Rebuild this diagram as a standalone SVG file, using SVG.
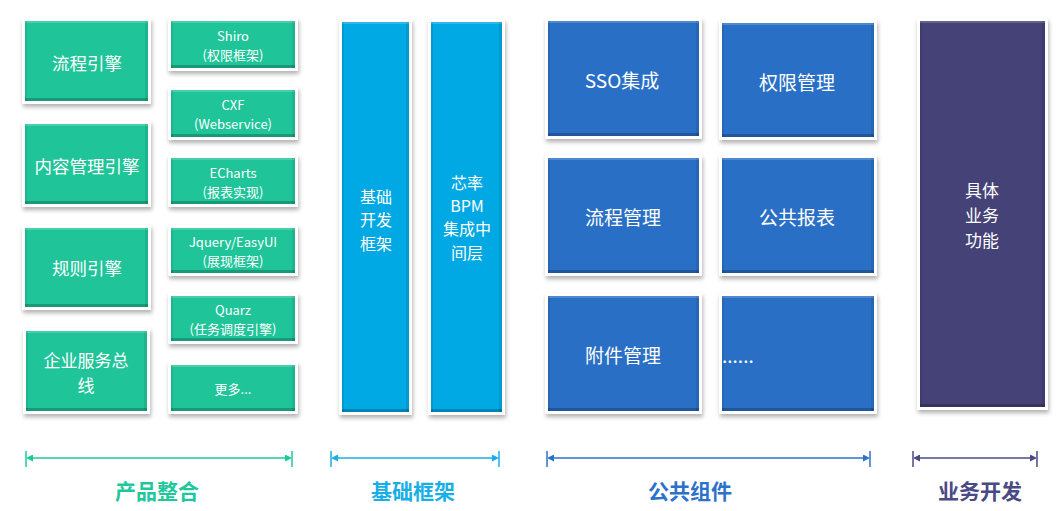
<svg xmlns="http://www.w3.org/2000/svg" width="1061" height="511" viewBox="0 0 1061 511">
<defs>
<filter id="sh" x="-20%" y="-20%" width="140%" height="140%">
<feDropShadow dx="1" dy="3" stdDeviation="2" flood-color="#000" flood-opacity="0.3"/>
</filter>
<marker id="aG" viewBox="0 0 10 10" refX="0" refY="5" markerWidth="7" markerHeight="7" orient="auto-start-reverse" markerUnits="userSpaceOnUse"><path d="M0,0 L10,5 L0,10 z" fill="#1fc89c"/></marker>
<marker id="aC" viewBox="0 0 10 10" refX="0" refY="5" markerWidth="7" markerHeight="7" orient="auto-start-reverse" markerUnits="userSpaceOnUse"><path d="M0,0 L10,5 L0,10 z" fill="#18afe6"/></marker>
<marker id="aB" viewBox="0 0 10 10" refX="0" refY="5" markerWidth="7" markerHeight="7" orient="auto-start-reverse" markerUnits="userSpaceOnUse"><path d="M0,0 L10,5 L0,10 z" fill="#2b72c8"/></marker>
<marker id="aP" viewBox="0 0 10 10" refX="0" refY="5" markerWidth="7" markerHeight="7" orient="auto-start-reverse" markerUnits="userSpaceOnUse"><path d="M0,0 L10,5 L0,10 z" fill="#4a4a85"/></marker>
</defs>
<style>
.frame{fill:#fff;filter:url(#sh)}
.g{fill:#1fc599}
.c{fill:#00a8e4}
.b{fill:#2a6fc6}
.p{fill:#454277}
.bt{fill:#fff;opacity:0.18}
.bb{fill:#000;opacity:0.22}
.bs{fill:#000;opacity:0.08}
text{font-family:"Microsoft YaHei","Noto Sans CJK SC","Noto Sans",sans-serif;fill:#fff;text-anchor:middle;dominant-baseline:central}
.t18{font-size:17.5px}
.t16{font-size:16px}
.t13{font-size:13px}
.t17{font-size:17px}
.t19{font-size:19px}
.lab{font-size:21px;font-weight:bold;font-family:"Noto Sans CJK SC",sans-serif}
</style>
<rect width="1061" height="511" fill="#fff"/>

<g id="n-liucheng-yinqing">
<rect class="frame" x="22" y="18" width="129" height="86"/>
<rect class="g" x="25" y="21" width="123" height="80"/>
<rect class="bt" x="25" y="21" width="123" height="2"/><rect class="bb" x="25" y="98" width="123" height="3"/><rect class="bs" x="145" y="21" width="3" height="80"/><rect class="bs" x="25" y="21" width="2" height="80"/>
<text class="t18" x="87" y="62">流程引擎</text>
</g>
<g id="n-neirong">
<rect class="frame" x="22" y="121" width="129" height="86"/>
<rect class="g" x="25" y="124" width="123" height="80"/>
<rect class="bt" x="25" y="124" width="123" height="2"/><rect class="bb" x="25" y="201" width="123" height="3"/><rect class="bs" x="145" y="124" width="3" height="80"/><rect class="bs" x="25" y="124" width="2" height="80"/>
<text class="t18" x="87" y="165">内容管理引擎</text>
</g>
<g id="n-guize">
<rect class="frame" x="22" y="225" width="129" height="85"/>
<rect class="g" x="25" y="228" width="123" height="79"/>
<rect class="bt" x="25" y="228" width="123" height="2"/><rect class="bb" x="25" y="304" width="123" height="3"/><rect class="bs" x="145" y="228" width="3" height="79"/><rect class="bs" x="25" y="228" width="2" height="79"/>
<text class="t18" x="87" y="267">规则引擎</text>
</g>
<g id="n-esb">
<rect class="frame" x="23" y="328" width="127" height="86"/>
<rect class="g" x="26" y="331" width="121" height="80"/>
<rect class="bt" x="26" y="331" width="121" height="2"/><rect class="bb" x="26" y="408" width="121" height="3"/><rect class="bs" x="144" y="331" width="3" height="80"/><rect class="bs" x="26" y="331" width="2" height="80"/>
<text class="t17" x="86" y="359"><tspan x="86">企业服务总</tspan><tspan x="86" dy="24.8">线</tspan></text>
</g>

<g id="n-shiro">
<rect class="frame" x="168" y="18" width="130" height="53"/>
<rect class="g" x="171" y="21" width="124" height="47"/>
<rect class="bt" x="171" y="21" width="124" height="2"/><rect class="bb" x="171" y="65" width="124" height="3"/><rect class="bs" x="292" y="21" width="3" height="47"/><rect class="bs" x="171" y="21" width="2" height="47"/>
<text class="t13" x="233" y="35"><tspan x="233">Shiro</tspan><tspan x="233" dy="19">(权限框架)</tspan></text>
</g>
<g id="n-cxf">
<rect class="frame" x="168" y="87" width="130" height="53"/>
<rect class="g" x="171" y="90" width="124" height="47"/>
<rect class="bt" x="171" y="90" width="124" height="2"/><rect class="bb" x="171" y="134" width="124" height="3"/><rect class="bs" x="292" y="90" width="3" height="47"/><rect class="bs" x="171" y="90" width="2" height="47"/>
<text class="t13" x="233" y="104"><tspan x="233">CXF</tspan><tspan x="233" dy="19">(Webservice)</tspan></text>
</g>
<g id="n-echarts">
<rect class="frame" x="168" y="155" width="130" height="52"/>
<rect class="g" x="171" y="158" width="124" height="46"/>
<rect class="bt" x="171" y="158" width="124" height="2"/><rect class="bb" x="171" y="201" width="124" height="3"/><rect class="bs" x="292" y="158" width="3" height="46"/><rect class="bs" x="171" y="158" width="2" height="46"/>
<text class="t13" x="233" y="172"><tspan x="233">ECharts</tspan><tspan x="233" dy="19">(报表实现)</tspan></text>
</g>
<g id="n-jquery">
<rect class="frame" x="168" y="225" width="130" height="51"/>
<rect class="g" x="171" y="228" width="124" height="45"/>
<rect class="bt" x="171" y="228" width="124" height="2"/><rect class="bb" x="171" y="270" width="124" height="3"/><rect class="bs" x="292" y="228" width="3" height="45"/><rect class="bs" x="171" y="228" width="2" height="45"/>
<text class="t13" x="233" y="241"><tspan x="233">Jquery/EasyUI</tspan><tspan x="233" dy="19">(展现框架)</tspan></text>
</g>
<g id="n-quarz">
<rect class="frame" x="168" y="293" width="130" height="51"/>
<rect class="g" x="171" y="296" width="124" height="45"/>
<rect class="bt" x="171" y="296" width="124" height="2"/><rect class="bb" x="171" y="338" width="124" height="3"/><rect class="bs" x="292" y="296" width="3" height="45"/><rect class="bs" x="171" y="296" width="2" height="45"/>
<text class="t13" x="233" y="309"><tspan x="233">Quarz</tspan><tspan x="233" dy="19">(任务调度引擎)</tspan></text>
</g>
<g id="n-more">
<rect class="frame" x="168" y="362" width="130" height="52"/>
<rect class="g" x="171" y="365" width="124" height="46"/>
<rect class="bt" x="171" y="365" width="124" height="2"/><rect class="bb" x="171" y="408" width="124" height="3"/><rect class="bs" x="292" y="365" width="3" height="46"/><rect class="bs" x="171" y="365" width="2" height="46"/>
<text class="t13" x="233" y="388">更多...</text>
</g>

<g id="n-jichu">
<rect class="frame" x="339" y="19" width="73" height="396"/>
<rect class="c" x="342" y="22" width="67" height="390"/>
<rect class="bt" x="342" y="22" width="67" height="2"/><rect class="bb" x="342" y="409" width="67" height="3"/><rect class="bs" x="406" y="22" width="3" height="390"/><rect class="bs" x="342" y="22" width="2" height="390"/>
<text class="t16" x="376" y="196"><tspan x="376">基础</tspan><tspan x="376" dy="23.4">开发</tspan><tspan x="376" dy="23.4">框架</tspan></text>
</g>
<g id="n-bpm">
<rect class="frame" x="428" y="19" width="77" height="396"/>
<rect class="c" x="431" y="22" width="71" height="390"/>
<rect class="bt" x="431" y="22" width="71" height="2"/><rect class="bb" x="431" y="409" width="71" height="3"/><rect class="bs" x="499" y="22" width="3" height="390"/><rect class="bs" x="431" y="22" width="2" height="390"/>
<text class="t16" x="467" y="181.5"><tspan x="467">芯率</tspan><tspan x="467" dy="23.4">BPM</tspan><tspan x="467" dy="23.4">集成中</tspan><tspan x="467" dy="23.4">间层</tspan></text>
</g>

<g id="n-sso">
<rect class="frame" x="545" y="18" width="157" height="121"/>
<rect class="b" x="548" y="21" width="151" height="115"/>
<rect class="bt" x="548" y="21" width="151" height="2"/><rect class="bb" x="548" y="133" width="151" height="3"/><rect class="bs" x="696" y="21" width="3" height="115"/><rect class="bs" x="548" y="21" width="2" height="115"/>
<text class="t19" x="622" y="79">SSO集成</text>
</g>
<g id="n-quanxian">
<rect class="frame" x="719" y="20" width="158" height="120"/>
<rect class="b" x="722" y="23" width="152" height="114"/>
<rect class="bt" x="722" y="23" width="152" height="2"/><rect class="bb" x="722" y="134" width="152" height="3"/><rect class="bs" x="871" y="23" width="3" height="114"/><rect class="bs" x="722" y="23" width="2" height="114"/>
<text class="t19" x="797" y="81">权限管理</text>
</g>
<g id="n-liucheng-guanli">
<rect class="frame" x="545" y="155" width="157" height="121"/>
<rect class="b" x="548" y="158" width="151" height="115"/>
<rect class="bt" x="548" y="158" width="151" height="2"/><rect class="bb" x="548" y="270" width="151" height="3"/><rect class="bs" x="696" y="158" width="3" height="115"/><rect class="bs" x="548" y="158" width="2" height="115"/>
<text class="t19" x="623" y="216">流程管理</text>
</g>
<g id="n-baobiao">
<rect class="frame" x="719" y="155" width="158" height="121"/>
<rect class="b" x="722" y="158" width="152" height="115"/>
<rect class="bt" x="722" y="158" width="152" height="2"/><rect class="bb" x="722" y="270" width="152" height="3"/><rect class="bs" x="871" y="158" width="3" height="115"/><rect class="bs" x="722" y="158" width="2" height="115"/>
<text class="t19" x="797" y="216">公共报表</text>
</g>
<g id="n-fujian">
<rect class="frame" x="545" y="293" width="157" height="121"/>
<rect class="b" x="548" y="296" width="151" height="115"/>
<rect class="bt" x="548" y="296" width="151" height="2"/><rect class="bb" x="548" y="408" width="151" height="3"/><rect class="bs" x="696" y="296" width="3" height="115"/><rect class="bs" x="548" y="296" width="2" height="115"/>
<text class="t19" x="623" y="354">附件管理</text>
</g>
<g id="n-etc">
<rect class="frame" x="719" y="293" width="158" height="121"/>
<rect class="b" x="722" y="296" width="152" height="115"/>
<rect class="bt" x="722" y="296" width="152" height="2"/><rect class="bb" x="722" y="408" width="152" height="3"/><rect class="bs" x="871" y="296" width="3" height="115"/><rect class="bs" x="722" y="296" width="2" height="115"/>
<text class="t19" x="722" y="354" style="text-anchor:start">......</text>
</g>

<g id="n-yewu">
<rect class="frame" x="917" y="18" width="131" height="392"/>
<rect class="p" x="920" y="21" width="125" height="386"/>
<rect class="bt" x="920" y="21" width="125" height="2"/><rect class="bb" x="920" y="404" width="125" height="3"/><rect class="bs" x="1042" y="21" width="3" height="386"/><rect class="bs" x="920" y="21" width="2" height="386"/>
<text class="t17" x="982" y="189"><tspan x="982">具体</tspan><tspan x="982" dy="24.8">业务</tspan><tspan x="982" dy="24.8">功能</tspan></text>
</g>

<g id="connectors" stroke-width="1.5" fill="none">
<line x1="33" y1="458" x2="285" y2="458" stroke="#1fc89c" marker-start="url(#aG)" marker-end="url(#aG)"/>
<line x1="26" y1="451" x2="26" y2="467" stroke="#1fc89c"/>
<line x1="292" y1="451" x2="292" y2="467" stroke="#1fc89c"/>
<line x1="338" y1="458" x2="492" y2="458" stroke="#18afe6" marker-start="url(#aC)" marker-end="url(#aC)"/>
<line x1="331" y1="451" x2="331" y2="467" stroke="#18afe6"/>
<line x1="499" y1="451" x2="499" y2="467" stroke="#18afe6"/>
<line x1="554" y1="458" x2="863" y2="458" stroke="#2b72c8" marker-start="url(#aB)" marker-end="url(#aB)"/>
<line x1="547" y1="451" x2="547" y2="467" stroke="#2b72c8"/>
<line x1="870" y1="451" x2="870" y2="467" stroke="#2b72c8"/>
<line x1="920" y1="458" x2="1030" y2="458" stroke="#4a4a85" marker-start="url(#aP)" marker-end="url(#aP)"/>
<line x1="913" y1="451" x2="913" y2="467" stroke="#4a4a85"/>
<line x1="1037" y1="451" x2="1037" y2="467" stroke="#4a4a85"/>
</g>

<g id="labels">
<text class="lab" x="157" y="490" style="fill:#1fc89c">产品整合</text>
<text class="lab" x="413" y="490" style="fill:#18afe6">基础框架</text>
<text class="lab" x="690" y="490" style="fill:#2b72c8">公共组件</text>
<text class="lab" x="980" y="490" style="fill:#4a4a85">业务开发</text>
</g>
</svg>
